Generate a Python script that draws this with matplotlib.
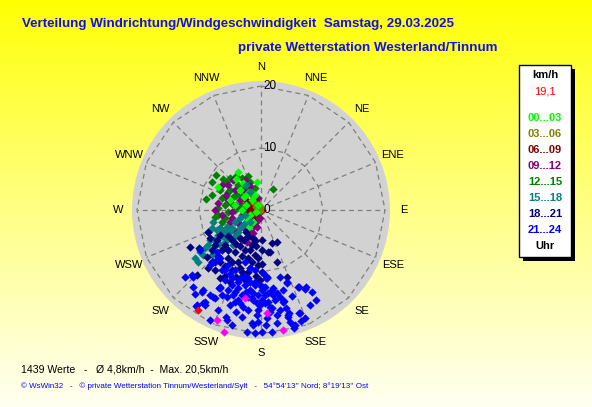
import numpy as np
import matplotlib.pyplot as plt
from matplotlib.patches import Circle, Rectangle

plt.rcParams["font.family"] = ["Liberation Sans", "DejaVu Sans"]

# wind vectors as (east, north) components in km/h, per time slot
pts_00_03 = [(-3.7, 6.1), (-0.6, 4.5), (-6.9, 3.7), (-4.0, 5.0), (-2.9, 4.3),
             (-2.1, 2.7), (-1.4, 1.6), (-2.4, 0.8), (-1.8, -0.8), (-2.3, -1.6),
             (-1.0, 2.4), (-2.7, 2.1), (-3.4, 3.2), (-0.5, 0.8), (-1.3, -1.9),
             (-5.0, 1.6), (-4.2, 0.8), (-1.9, -2.7), (-0.8, -0.3), (-3.1, 0.0)]
pts_03_06 = [(0.0, 0.3), (-0.3, 0.8), (-0.6, 1.3), (-1.0, 1.8), (-1.3, 2.3),
             (-1.6, 2.7), (-1.9, 3.2), (-2.3, 3.5), (-0.5, 0.0), (-0.8, 0.5),
             (-0.2, -0.2), (-1.1, 1.1)]
pts_06_09 = [(0.2, 0.0), (-0.3, 0.3), (-0.8, 1.0), (-1.4, 0.3), (-1.8, 1.1),
             (-2.1, 0.0), (-1.1, -0.5), (-0.5, -0.6), (-2.4, 1.6), (-1.3, 1.8),
             (-2.7, 0.6), (-1.8, -1.1), (-0.6, -1.3), (-2.6, -0.6)]
pts_09_12 = [(-1.3, -3.7), (-0.6, -2.7), (-6.9, 1.1), (-6.6, -2.9), (-4.2, 3.2),
             (-5.3, 4.0), (-2.6, 4.8), (-1.8, 3.9), (-3.4, 1.6), (-4.7, -0.3),
             (-3.7, -1.9), (-2.7, -2.9), (-1.8, -4.2), (-0.8, -1.9), (-0.2, -1.3),
             (-5.6, 2.4), (-6.3, -0.8), (-4.0, -3.5), (-2.3, -5.2), (-1.0, -4.8),
             (-3.1, -0.8), (-5.0, -1.9), (-4.5, 4.8), (-0.5, 1.9), (-4.7, -1.3),
             (-3.4, -2.4), (-2.1, -3.2), (-1.1, -2.6), (-4.0, 0.8), (-5.3, 1.6),
             (-6.3, 4.0), (-2.4, 2.9), (-3.1, -4.8), (-7.4, 0.0)]
pts_12_15 = [(-8.9, 1.8), (-6.1, 5.0), (-3.1, 5.2), (1.9, 3.4), (-6.6, 3.2),
             (-7.4, -1.1), (-5.3, 2.9), (-4.5, 2.1), (-3.7, 4.0), (-5.0, 5.2),
             (-5.8, 0.8), (-4.2, 0.0), (-3.4, 2.4), (-2.6, 3.5), (-1.8, 4.5),
             (-6.3, 1.9), (-5.3, -0.3), (-6.9, 0.3), (-4.7, 1.0), (-3.2, 0.8),
             (-7.9, 4.5), (-4.0, 5.5), (-1.0, 3.5), (-6.3, -1.9), (-6.9, -0.8),
             (-5.8, -1.3), (-7.9, 2.4), (-5.0, 3.2), (-4.0, 2.4), (-2.7, 4.0),
             (-5.6, 4.5), (-2.1, 5.5), (-3.4, 0.3), (-7.3, 5.6)]
pts_15_18 = [(-2.4, 4.0), (-1.8, 2.9), (-9.8, -6.8), (-7.7, -1.9), (-7.1, -3.2),
             (-5.5, -2.7), (-4.2, -1.9), (-3.4, -1.3), (-6.3, -4.2), (-8.2, -4.8),
             (-9.0, -6.1), (-7.4, -5.6), (-5.0, -3.5), (-2.6, -0.8), (-6.6, -2.9),
             (-8.5, -3.5), (-5.8, -5.2), (-4.2, -4.2), (-7.9, -7.3), (-10.2, -8.4),
             (-3.4, -2.9), (-1.8, -1.9), (-5.3, -6.5), (-7.9, -2.9), (-6.9, -4.0),
             (-6.0, -3.5), (-4.7, -2.9), (-3.7, -3.5), (-2.7, -2.3), (-8.5, -5.6),
             (-7.6, -4.8), (-6.6, -5.6), (-9.3, -7.3), (-5.6, -4.5), (-4.5, -5.6),
             (-10.6, -7.7)]
pts_18_21 = [(-11.4, -6.0), (-8.5, -3.5), (-8.7, -7.6), (-10.3, -10.5), (1.5, -6.8),
             (2.6, -5.2), (1.0, -10.8), (-1.0, -5.0), (-7.1, -4.8), (-5.8, -5.6),
             (-4.7, -4.8), (-3.4, -4.5), (-2.1, -4.2), (-1.4, -5.6), (-2.6, -6.5),
             (-4.2, -6.8), (-5.3, -7.7), (-6.6, -8.4), (-3.7, -8.4), (-2.1, -7.7),
             (-1.0, -7.3), (-0.5, -8.9), (-1.8, -9.4), (-3.1, -10.0), (-4.7, -9.7),
             (-5.8, -10.6), (0.2, -10.0), (0.2, -6.5), (-7.4, -9.7), (-5.0, -11.6),
             (-2.6, -11.3), (4.2, -10.8), (-0.2, -11.3), (-7.9, -6.5), (-6.3, -6.5),
             (-3.4, -5.8), (-8.2, -4.5), (-7.4, -5.6), (-6.6, -4.0), (-5.3, -4.2),
             (-4.0, -5.5), (-2.7, -4.8), (-1.8, -6.5), (-0.8, -5.8), (-0.5, -7.7),
             (-1.4, -8.4), (-3.1, -7.4), (-4.7, -8.4), (-5.8, -9.0), (-6.9, -7.4),
             (-7.9, -8.4), (-4.0, -10.8), (-2.1, -10.0), (-0.8, -10.6), (0.2, -8.7),
             (-10.0, -6.1), (1.1, -6.8), (2.6, -8.4), (1.8, -5.3), (-3.4, -9.4),
             (-5.3, -6.5), (-2.4, -3.5), (-1.3, -4.5), (-6.6, -11.0), (-8.5, -9.4),
             (0.2, -4.8)]
pts_21_24 = [(-11.0, -10.8), (-9.4, -12.9), (-10.3, -15.3), (-9.4, -15.0), (-8.2, -13.7),
             (-7.4, -14.2), (-6.6, -12.6), (-5.5, -14.0), (-4.5, -13.7), (-4.2, -14.8),
             (-3.4, -15.0), (-2.9, -15.6), (-3.1, -17.2), (-2.1, -14.0), (-1.3, -13.4),
             (-0.5, -13.7), (0.2, -12.9), (1.1, -13.4), (1.9, -13.7), (3.1, -10.8),
             (4.2, -11.6), (6.0, -12.4), (3.1, -14.0), (1.8, -15.8), (-0.2, -15.3),
             (-1.4, -18.2), (-0.5, -18.0), (0.2, -19.6), (2.6, -16.9), (2.6, -18.2),
             (4.3, -16.9), (4.7, -18.0), (-2.3, -19.6), (-0.6, -16.9), (4.2, -11.8),
             (6.1, -12.4), (7.1, -12.7), (8.2, -13.2), (3.7, -14.7), (4.5, -16.6),
             (4.3, -17.2), (6.1, -16.6), (6.4, -17.9), (5.3, -18.7), (3.1, -16.1),
             (-11.1, -10.5), (-10.5, -15.5), (-9.0, -14.8), (-9.5, -13.2), (-7.7, -14.0),
             (-6.8, -12.6), (-5.6, -17.2), (-5.5, -17.7), (-1.3, -18.5), (1.0, -17.4),
             (5.5, -18.5), (6.3, -16.6), (7.3, -12.4), (3.5, -14.8), (2.6, -13.4),
             (1.8, -12.9), (0.8, -11.0), (0.3, -12.4), (-0.6, -15.0), (0.6, -15.0),
             (1.5, -15.6), (-1.3, -14.5), (-12.3, -10.8), (-10.6, -13.5), (-9.0, -15.3),
             (-1.0, -19.8), (1.5, -16.4), (-6.6, -7.7), (-5.3, -8.9), (-4.2, -9.7),
             (-3.4, -11.0), (-2.6, -12.1), (-1.8, -12.9), (-4.7, -12.1), (-5.8, -11.3),
             (-3.7, -12.6), (-2.1, -11.0), (-1.0, -11.6), (-0.2, -12.1), (-3.1, -13.7),
             (-6.3, -9.7), (-7.4, -8.4), (-1.8, -9.4), (-5.0, -10.3), (-8.2, -8.9),
             (-4.2, -13.2), (0.6, -13.7), (-2.6, -8.4), (-1.0, -9.7), (-9.8, -6.5),
             (-7.7, -8.4), (-7.1, -6.8), (-6.9, -7.7), (-6.6, -12.4), (0.3, -10.2),
             (-1.0, -12.1), (1.0, -11.0), (1.9, -12.6), (0.6, -12.4), (-11.0, -12.4),
             (-5.8, -9.7), (-4.7, -11.0), (-3.7, -11.6), (-2.7, -10.6), (-1.8, -11.6),
             (-5.3, -12.9), (-6.3, -13.7), (-2.4, -13.2), (-1.4, -14.2), (-3.7, -14.5),
             (-5.0, -15.3), (-2.1, -16.1), (0.2, -14.5), (1.1, -14.8), (2.3, -14.5),
             (-0.5, -16.1), (0.8, -18.5), (-4.0, -16.4), (-6.9, -16.1), (-8.2, -17.7),
             (-4.7, -18.5), (3.5, -12.9), (5.0, -13.9), (4.0, -15.8), (7.9, -15.3),
             (8.9, -14.5), (5.3, -19.0), (7.1, -17.4), (1.8, -19.6)]
max_points = [(-7.1, -17.7), (-6.0, -19.6), (-2.6, -14.2), (1.0, -16.6), (3.5, -19.4)]
current_point = (-10.1, -16.2)
current_speed = 19.1

slot_labels = ["00...03", "03...06", "06...09", "09...12",
               "12...15", "15...18", "18...21", "21...24"]
slot_colors = ["#00ff00", "#808000", "#800000", "#800080",
               "#008000", "#008080", "#000080", "#0000ff"]
slot_points = [pts_00_03, pts_03_06, pts_06_09, pts_09_12,
               pts_12_15, pts_15_18, pts_18_21, pts_21_24]
draw_order = [2, 1, 4, 3, 0, 5, 6, 7]

directions = ["N", "NNE", "NE", "ENE", "E", "ESE", "SE", "SSE",
              "S", "SSW", "SW", "WSW", "W", "WNW", "NW", "NNW"]
ring_values = [0, 10, 20]

n_values = 1439
mean_speed = 4.8
max_speed = 20.5

W, H = 592, 407
fig = plt.figure(figsize=(W / 100, H / 100), dpi=100)

# yellow -> cream background
bg = fig.add_axes([0, 0, 1, 1], zorder=-10)
t = np.linspace(0, 1, H)[:, None] ** 0.9
grad = np.ones((H, 2, 3))
grad[:, :, 2] = 0.95 * t
bg.imshow(grad, aspect="auto", extent=[0, 1, 0, 1])
bg.axis("off")

# rose axes: 6.2 px per km/h, centre at (261, 210)
scale = 6.2
span = 30
cx, cy = 261, 210
ax = fig.add_axes([(cx - span * scale) / W, (H - cy - span * scale) / H,
                   2 * span * scale / W, 2 * span * scale / H])
ax.set_xlim(-span, span)
ax.set_ylim(-span, span)
ax.axis("off")

ax.add_patch(Circle((0, 0), 20.8, facecolor="#d2d2d2", edgecolor="none", zorder=0))

ang = np.deg2rad(np.arange(16) * 22.5)
for a in ang:
    ax.plot([0, 20 * np.sin(a)], [0, 20 * np.cos(a)], color="#7f7f7f",
            lw=0.9, ls=(0, (4, 3)), zorder=1)
for r in ring_values[1:]:
    ring = np.append(ang, ang[0])
    ax.plot(r * np.sin(ring), r * np.cos(ring), color="#7f7f7f",
            lw=0.9, ls=(0, (4, 3)), zorder=1)
for r in ring_values:
    ax.text(0.35, r, str(r), fontsize=8.5, ha="left", va="center", zorder=5)

for name, a in zip(directions, ang):
    ax.text(23 * np.sin(a), 23 * np.cos(a), name, fontsize=8,
            ha="center", va="center")

msize = 18
for i in draw_order:
    u, v = zip(*slot_points[i])
    ax.scatter(u, v, s=msize, marker="D", color=slot_colors[i], linewidths=0, zorder=3)
u, v = zip(*max_points)
ax.scatter(u, v, s=msize, marker="D", color="#ff00ff", linewidths=0, zorder=4)
ax.scatter([current_point[0]], [current_point[1]], s=msize, marker="D",
           color="#ff0000", linewidths=0, zorder=4)

# titles
title_color = "#1010e8"
fig.text(22 / W, 1 - 24 / H,
         "Verteilung Windrichtung/Windgeschwindigkeit  Samstag, 29.03.2025",
         fontsize=9.6, fontweight="bold", color=title_color, va="center")
fig.text(238 / W, 1 - 48 / H, "private Wetterstation Westerland/Tinnum",
         fontsize=9.6, fontweight="bold", color=title_color, va="center")

# legend box with shadow
bx0, by0, bx1, by1 = 519, 65, 571, 257
fig.patches.append(Rectangle(((bx0 + 4) / W, 1 - (by1 + 4) / H), (bx1 - bx0) / W,
                             (by1 - by0) / H, transform=fig.transFigure,
                             facecolor="black", edgecolor="none", zorder=1))
fig.patches.append(Rectangle((bx0 / W, 1 - by1 / H), (bx1 - bx0) / W,
                             (by1 - by0) / H, transform=fig.transFigure,
                             facecolor="white", edgecolor="black", lw=1, zorder=2))
lx = 545 / W
fig.text(lx, 1 - 75 / H, "km/h", fontsize=8, fontweight="bold", ha="center",
         va="center", zorder=3)
fig.text(lx, 1 - 92 / H, f"{current_speed:.1f}".replace(".", ","), fontsize=8,
         color="#ff0000", ha="center", va="center", zorder=3)
for k, (lab, col) in enumerate(zip(slot_labels, slot_colors)):
    fig.text(lx, 1 - (118 + k * 16) / H, lab, fontsize=8, fontweight="bold",
             color=col, ha="center", va="center", zorder=3)
fig.text(lx, 1 - 246 / H, "Uhr", fontsize=8, fontweight="bold", ha="center",
         va="center", zorder=3)

# footer
stats = (f"{n_values} Werte   -   Ø {mean_speed:.1f}km/h  -  Max. {max_speed:.1f}km/h"
         .replace(".", ","))
stats = stats.replace("Max,", "Max.")
fig.text(21 / W, 1 - 369 / H, stats, fontsize=7.6, va="center")
fig.text(21 / W, 1 - 386 / H,
         "© WsWin32   -   © private Wetterstation Tinnum/Westerland/Sylt   -   "
         "54°54'13'' Nord; 8°19'13'' Ost",
         fontsize=5.8, color="#0000ff", va="center")

fig.savefig("out.png", dpi=100)
